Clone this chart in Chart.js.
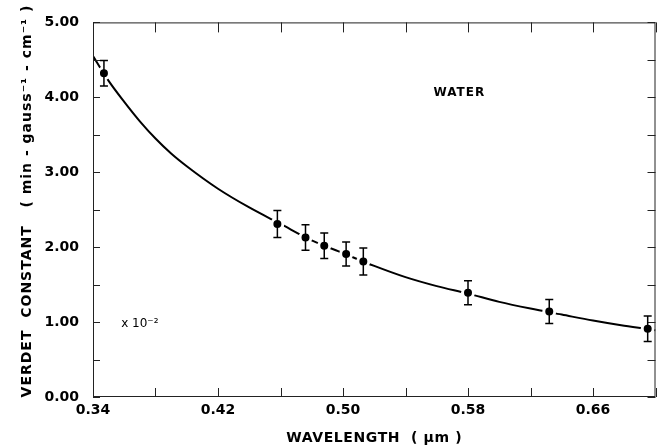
<!DOCTYPE html>
<html>
<head>
<meta charset="utf-8">
<script src="https://cdn.jsdelivr.net/npm/chart.js@4"></script>
<style>
  html, body { margin: 0; padding: 0; background: #fff; }
  #wrap { width: 664px; height: 448px; }
</style>
</head>
<body>
<div id="wrap"><canvas id="verdetChart" width="664" height="448"></canvas></div>
<script>
// measured points (wavelength in um, Verdet constant x 10^-2)
const pointWavelength = [0.347, 0.458, 0.476, 0.488, 0.502, 0.513, 0.580, 0.632, 0.695];
const pointVerdet = [4.32, 2.31, 2.13, 2.02, 1.91, 1.81, 1.39, 1.14, 0.91];
const pointError = [0.17, 0.18, 0.17, 0.17, 0.16, 0.18, 0.16, 0.16, 0.17];

// fitted curve
const fitWavelength = [0.34, 0.35, 0.36, 0.37, 0.38, 0.39, 0.40, 0.42, 0.44, 0.46, 0.48, 0.50, 0.52, 0.54, 0.56, 0.58, 0.60, 0.62, 0.64, 0.66, 0.68, 0.70];
const fitVerdet = [4.55, 4.22, 3.94, 3.68, 3.45, 3.25, 3.08, 2.78, 2.53, 2.31, 2.09, 1.92, 1.75, 1.60, 1.48, 1.38, 1.27, 1.18, 1.10, 1.02, 0.95, 0.89];

// axis ranges and steps
const xRange = [0.34, 0.70];
const xStep = 0.04;
const yRange = [0, 5];
const yStep = 0.5;

const xTitle = 'WAVELENGTH  ( µm )';
const yTitle = 'VERDET  CONSTANT   ( min - gauss⁻¹ - cm⁻¹ )';

const FONT = '"DejaVu Sans", sans-serif';

// Frame, inward tick marks, error bars, axis titles and notes
const frameTicks = {
    id: 'frameTicks',
    afterDatasetsDraw(chart) {
        const { ctx, chartArea: a, scales: { x, y } } = chart;
        ctx.save();
        ctx.strokeStyle = '#222';
        ctx.lineWidth = 1;
        ctx.strokeRect(a.left + 0.5, a.top + 0.5, a.width - 1, a.height - 1);

        x.ticks.forEach(t => {
            const px = Math.round(x.getPixelForValue(t.value)) + 0.5;
            ctx.beginPath();
            ctx.moveTo(px, a.bottom); ctx.lineTo(px, a.bottom - 9);
            ctx.moveTo(px, a.top); ctx.lineTo(px, a.top + 10);
            ctx.stroke();
        });
        y.ticks.forEach(t => {
            const py = Math.round(y.getPixelForValue(t.value)) + 0.5;
            ctx.beginPath();
            ctx.moveTo(a.left, py); ctx.lineTo(a.left + 7, py);
            ctx.moveTo(a.right, py); ctx.lineTo(a.right - 8, py);
            ctx.stroke();
        });

        // error bars
        ctx.strokeStyle = '#000';
        ctx.lineWidth = 1.5;
        pointWavelength.forEach((w, i) => {
            const px = x.getPixelForValue(w);
            const top = y.getPixelForValue(pointVerdet[i] + pointError[i]);
            const bot = y.getPixelForValue(pointVerdet[i] - pointError[i]);
            ctx.beginPath();
            ctx.moveTo(px, top); ctx.lineTo(px, bot);
            ctx.moveTo(px - 4, top); ctx.lineTo(px + 4, top);
            ctx.moveTo(px - 4, bot); ctx.lineTo(px + 4, bot);
            ctx.stroke();
        });

        // notes
        ctx.fillStyle = '#000';
        ctx.textBaseline = 'middle';
        ctx.font = 'bold 12px ' + FONT;
        ctx.letterSpacing = '1px';
        ctx.textAlign = 'center';
        ctx.fillText('WATER', x.getPixelForValue(0.5745), y.getPixelForValue(4.06));
        ctx.textAlign = 'left';
        ctx.font = '12px ' + FONT;
        ctx.letterSpacing = '0px';
        ctx.fillText('x 10⁻²', x.getPixelForValue(0.358), y.getPixelForValue(0.98));

        // axis titles
        ctx.font = 'bold 14px ' + FONT;
        ctx.textAlign = 'center';
        ctx.letterSpacing = '0.6px';
        ctx.fillText(xTitle, (a.left + a.right) / 2, 438);
        ctx.letterSpacing = '1px';
        ctx.translate(27, 201);
        ctx.rotate(-Math.PI / 2);
        ctx.fillText(yTitle, 0, 0);
        ctx.restore();
    }
};

const ctx = document.getElementById('verdetChart').getContext('2d');
const verdetChart = new Chart(ctx, {
    data: {
        datasets: [{
            type: 'scatter',
            label: 'Measured',
            data: pointWavelength.map((w, i) => ({ x: w, y: pointVerdet[i] })),
            pointRadius: 5.5,
            pointBackgroundColor: '#000',
            pointBorderColor: '#fff',
            pointBorderWidth: 3,
            order: 0
        }, {
            type: 'line',
            label: 'Fit',
            data: fitWavelength.map((w, i) => ({ x: w, y: fitVerdet[i] })),
            borderColor: '#000',
            borderWidth: 2,
            pointRadius: 0,
            cubicInterpolationMode: 'monotone',
            fill: false,
            order: 1
        }]
    },
    options: {
        responsive: false,
        animation: false,
        events: [],
        layout: { padding: { top: 21, right: 1, left: 0, bottom: 0 } },
        plugins: { legend: { display: false }, tooltip: { enabled: false } },
        scales: {
            x: {
                type: 'linear',
                min: xRange[0],
                max: xRange[1],
                grid: { display: false, drawTicks: false },
                border: { display: false },
                ticks: {
                    stepSize: xStep,
                    padding: 5,
                    color: '#000',
                    font: { family: FONT, size: 14, weight: 'bold' },
                    maxRotation: 0,
                    autoSkip: false,
                    callback: (v, i) => i % 2 === 0 ? v.toFixed(2) : ''
                },
                afterFit: s => { s.height = 51; }
            },
            y: {
                type: 'linear',
                min: yRange[0],
                max: yRange[1],
                grid: { display: false, drawTicks: false },
                border: { display: false },
                ticks: {
                    stepSize: yStep,
                    padding: 14,
                    color: '#000',
                    font: { family: FONT, size: 14, weight: 'bold' },
                    autoSkip: false,
                    callback: (v, i) => i % 2 === 0 ? v.toFixed(2) : ''
                },
                afterFit: s => { s.width = 93; }
            }
        }
    },
    plugins: [frameTicks]
});
</script>
</body>
</html>
